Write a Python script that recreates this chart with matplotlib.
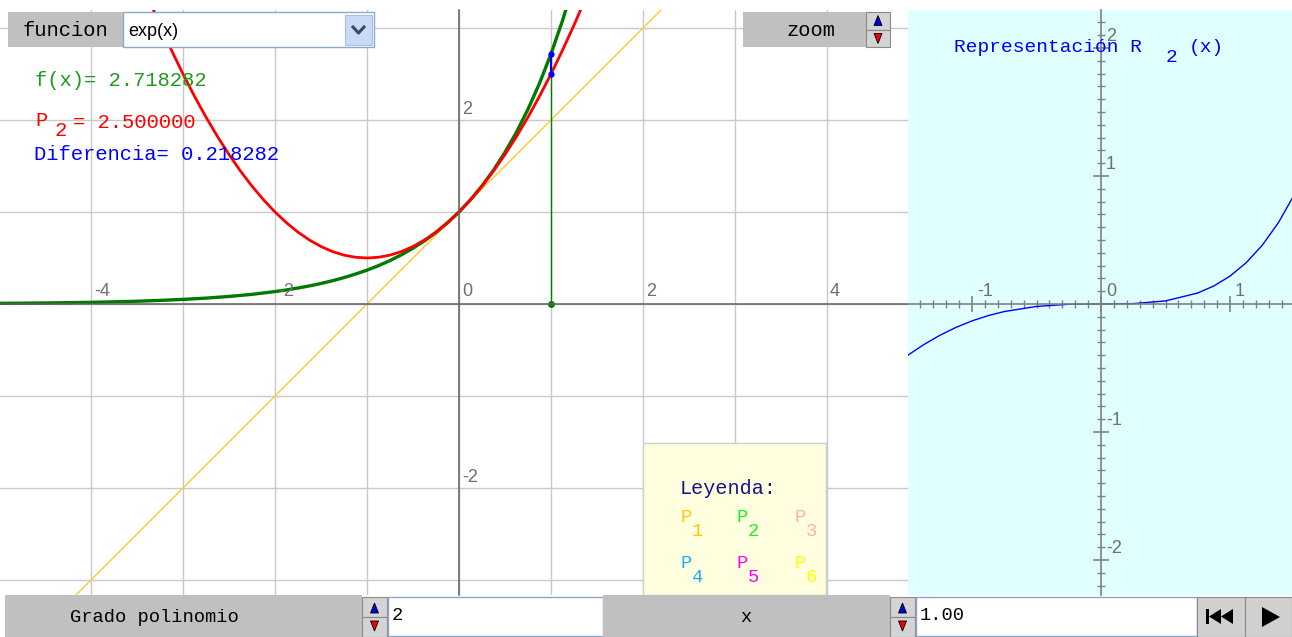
import numpy as np
import matplotlib
matplotlib.use("Agg")
import matplotlib.pyplot as plt
from matplotlib.patches import Rectangle, Polygon
from matplotlib.ticker import MultipleLocator

W, H = 1292, 637
MONO = "Liberation Mono"
SANS = "Liberation Sans"

# f(x) = exp(x)
f_x = [-5.0, -4.5, -4.0, -3.5, -3.25, -3.0, -2.75, -2.5, -2.25, -2.0, -1.875, -1.75,
       -1.625, -1.5, -1.375, -1.25, -1.125, -1.0, -0.875, -0.75, -0.625, -0.5, -0.375,
       -0.25, -0.125, 0.0, 0.125, 0.25, 0.375, 0.5, 0.625, 0.75, 0.875, 1.0, 1.125, 1.25]
f_y = [0.007, 0.011, 0.018, 0.030, 0.039, 0.050, 0.064, 0.082, 0.105, 0.135, 0.153, 0.174,
       0.197, 0.223, 0.253, 0.287, 0.325, 0.368, 0.417, 0.472, 0.535, 0.607, 0.687,
       0.779, 0.883, 1.0, 1.133, 1.284, 1.455, 1.649, 1.868, 2.117, 2.399, 2.718, 3.080, 3.490]

# P2(x), red parabola
p2_x = [-3.5, -3.375, -3.25, -3.125, -3.0, -2.875, -2.75, -2.625, -2.5, -2.375, -2.25,
        -2.125, -2.0, -1.875, -1.75, -1.625, -1.5, -1.375, -1.25, -1.125, -1.0, -0.875,
        -0.75, -0.625, -0.5, -0.375, -0.25, -0.125, 0.0, 0.125, 0.25, 0.375, 0.5, 0.625,
        0.75, 0.875, 1.0, 1.125, 1.25, 1.375, 1.5]
p2_y = [3.625, 3.320, 3.031, 2.758, 2.5, 2.258, 2.031, 1.820, 1.625, 1.445, 1.281,
        1.133, 1.0, 0.883, 0.781, 0.695, 0.625, 0.570, 0.531, 0.508, 0.5, 0.508,
        0.531, 0.570, 0.625, 0.695, 0.781, 0.883, 1.0, 1.133, 1.281, 1.445, 1.625, 1.820,
        2.031, 2.258, 2.5, 2.758, 3.031, 3.320, 3.625]

# P1(x), yellow line
p1_x = [-5.0, 2.5]
p1_y = [-4.0, 3.5]

# R2(x) in the right panel
r2_x = [-1.5, -1.375, -1.25, -1.125, -1.0, -0.875, -0.75, -0.5, -0.25, 0.0,
        0.25, 0.5, 0.75, 0.875, 1.0, 1.125, 1.25, 1.375, 1.5]
r2_y = [-0.402, -0.318, -0.245, -0.183, -0.132, -0.091, -0.059, -0.019, -0.002, 0.0,
        0.003, 0.024, 0.086, 0.141, 0.218, 0.322, 0.459, 0.635, 0.857]

x0 = 1.0
fx0 = 2.718282
p2x0 = 2.5

legend_names = ["1", "2", "3", "4", "5", "6"]
legend_colors = ["#FFC800", "#22EE22", "#FFAFAF", "#1EAAFF", "#FF00FF", "#FFFF00"]


def px(x0_, y0_, x1_, y1_):
    return [x0_ / W, 1 - y1_ / H, (x1_ - x0_) / W, (y1_ - y0_) / H]


fig = plt.figure(figsize=(W / 100, H / 100), dpi=100)
fig.patch.set_facecolor("white")

# ---- main plot
ax = fig.add_axes(px(0, 10, 908, 595))
ax.set_xlim(-459 / 92, 449 / 92)
ax.set_ylim(-291 / 92, 294 / 92)
ax.set_xticks(range(-4, 5))
ax.set_yticks(range(-3, 4))
ax.grid(color="#C8C8C8", lw=1)
ax.tick_params(length=0, labelbottom=False, labelleft=False)
for s in ["top", "right"]:
    ax.spines[s].set_visible(False)
for s in ["left", "bottom"]:
    ax.spines[s].set_position("zero")
    ax.spines[s].set_color("#606060")
    ax.spines[s].set_linewidth(1.1)

ax.plot(p1_x, p1_y, color="#FFC830", lw=1.0)
ax.plot(f_x, f_y, color="#007A00", lw=2.4, solid_capstyle="butt")
ax.plot(p2_x, p2_y, color="#FF0000", lw=2.0)
ax.plot([x0, x0], [0, fx0], color="#008000", lw=1.0)
ax.plot([x0, x0], [p2x0, fx0], color="#0000FF", lw=1.5, marker="o", ms=3.5)
ax.plot([x0], [0], color="#008000", marker="o", ms=4)

for v in [-4, -2, 0, 2, 4]:
    ax.annotate(str(v), (v, 0), xytext=(3, 4), textcoords="offset pixels",
                ha="left", va="bottom", fontsize=13, color="#707070", family=SANS)
for v in [2, -2]:
    ax.annotate(str(v), (0, v), xytext=(3, 2), textcoords="offset pixels",
                ha="left", va="bottom", fontsize=13, color="#707070", family=SANS)

# ---- right panel R2
ax2 = fig.add_axes(px(908, 10, 1292, 595))
ax2.set_facecolor("#E0FFFF")
ax2.set_xlim(-193 / 129, 191 / 129)
ax2.set_ylim(-291 / 128, 294 / 128)
for s in ["top", "right"]:
    ax2.spines[s].set_visible(False)
for s in ["left", "bottom"]:
    ax2.spines[s].set_position("zero")
    ax2.spines[s].set_color("#808080")
    ax2.spines[s].set_linewidth(1.2)
ax2.xaxis.set_major_locator(MultipleLocator(1))
ax2.yaxis.set_major_locator(MultipleLocator(1))
ax2.xaxis.set_minor_locator(MultipleLocator(0.1))
ax2.yaxis.set_minor_locator(MultipleLocator(0.1))
ax2.tick_params(which="major", direction="inout", length=12, width=1.2, color="#808080",
                labelbottom=False, labelleft=False)
ax2.tick_params(which="minor", direction="inout", length=6, width=1.0, color="#808080")
ax2.plot(r2_x, r2_y, color="#0000FF", lw=1.0)
for v in [-1, 0, 1]:
    ax2.annotate(str(v), (v, 0), xytext=(5, 4), textcoords="offset pixels",
                 ha="left", va="bottom", fontsize=13, color="#707070", family=SANS)
for v in [2, 1, -1, -2]:
    ax2.annotate(str(v), (0, v), xytext=(5, 3), textcoords="offset pixels",
                 ha="left", va="bottom", fontsize=13, color="#707070", family=SANS)

# ---- overlay for widgets and texts (pixel coordinates)
ov = fig.add_axes([0, 0, 1, 1])
ov.set_xlim(0, W)
ov.set_ylim(H, 0)
ov.axis("off")
ov.patch.set_alpha(0)


def box(x_a, y_a, x_b, y_b, fc, ec="none", lw=0.0):
    ov.add_patch(Rectangle((x_a, y_a), x_b - x_a, y_b - y_a, fc=fc, ec=ec, lw=lw))


def spinner(x_a, y_a, x_b, y_b):
    ym = (y_a + y_b) / 2
    box(x_a, y_a, x_b, ym, "#D4D4D4", "#8A8A8A", 0.8)
    box(x_a, ym, x_b, y_b, "#D4D4D4", "#8A8A8A", 0.8)
    cx = (x_a + x_b) / 2
    ov.add_patch(Polygon([[cx - 4, ym - 4], [cx + 4, ym - 4], [cx, ym - 14]],
                         fc="#0000DD", ec="black", lw=0.6))
    ov.add_patch(Polygon([[cx - 4, ym + 4], [cx + 4, ym + 4], [cx, ym + 14]],
                         fc="#EE0000", ec="black", lw=0.6))


TXT = 14.8

# top bar
box(8, 12, 123, 47, "#C0C0C0")
ov.text(65, 30, "funcion", fontsize=TXT, family=MONO, ha="center", va="center")
box(123, 12, 374, 47, "white", "#8CA8CC", 1.0)
ov.text(128, 31, "exp(x)", fontsize=13, family=SANS, ha="left", va="center")
box(345, 15, 372, 45, "#C8DAF6", "#A8C0E4", 0.8)
ov.plot([353, 358.5, 364], [27, 33, 27], color="#3A4A6A", lw=2.2)

box(743, 12, 866, 47, "#C0C0C0")
ov.text(811, 30, "zoom", fontsize=TXT, family=MONO, ha="center", va="center")
spinner(866, 12, 890, 47)

# value texts
ov.text(35, 81, "f(x)= 2.718282", fontsize=TXT, family=MONO, color="#1E9A1E",
        ha="left", va="center")
ov.text(35, 121, "P", fontsize=TXT, family=MONO, color="#FF0000", ha="left", va="center")
ov.text(54, 131, "2", fontsize=TXT, family=MONO, color="#FF0000", ha="left", va="center")
ov.text(73, 122, "= 2.500000", fontsize=TXT, family=MONO, color="#FF0000",
        ha="left", va="center")
ov.text(34, 155, "Diferencia= 0.218282", fontsize=TXT, family=MONO, color="#0000FF",
        ha="left", va="center")

# right panel title
ov.text(954, 48, "Representación R", fontsize=14, family=MONO, color="#0000FF",
        ha="left", va="center")
ov.text(1166, 57, "2", fontsize=14, family=MONO, color="#0000FF", ha="left", va="center")
ov.text(1189, 48, "(x)", fontsize=14, family=MONO, color="#0000FF", ha="left", va="center")

# legend
box(643, 443, 826, 595, "#FFFFE0", "#D0D0D0", 1.0)
ov.text(680, 488, "Leyenda:", fontsize=14.5, family=MONO, color="#151585",
        ha="left", va="center")
cols = [680, 736, 794]
rows = [518, 563]
for i, (name, c) in enumerate(zip(legend_names, legend_colors)):
    xx = cols[i % 3]
    yy = rows[i // 3]
    ov.text(xx, yy, "P", fontsize=13.5, family=MONO, color=c, ha="left", va="center")
    ov.text(xx + 12, yy + 14, name, fontsize=13.5, family=MONO, color=c,
            ha="left", va="center")

# bottom bar
box(5, 595, 362, 637, "#C0C0C0")
ov.text(154, 617, "Grado polinomio", fontsize=13.5, family=MONO, ha="center", va="center")
spinner(362, 597, 387, 637)
box(388, 597, 603, 636, "white", "#8CA8CC", 1.0)
ov.text(392, 616, "2", fontsize=13.5, family=MONO, ha="left", va="center")

box(603, 595, 890, 637, "#C0C0C0")
ov.text(746, 617, "x", fontsize=13.5, family=MONO, ha="center", va="center")
spinner(890, 597, 915, 637)
box(916, 597, 1197, 636, "white", "#8CA8CC", 1.0)
ov.text(920, 616, "1.00", fontsize=13.5, family=MONO, ha="left", va="center")

box(1197, 597, 1245, 637, "#D0D0D0", "#8A8A8A", 0.8)
box(1245, 597, 1292, 637, "#D0D0D0", "#8A8A8A", 0.8)
ov.add_patch(Rectangle((1206, 609), 3, 15, fc="black"))
ov.add_patch(Polygon([[1209, 616.5], [1221, 609], [1221, 624]], fc="black"))
ov.add_patch(Polygon([[1221, 616.5], [1233, 609], [1233, 624]], fc="black"))
ov.add_patch(Polygon([[1262, 607], [1262, 627], [1280, 617]], fc="black"))

fig.savefig("out.png", dpi=100)
